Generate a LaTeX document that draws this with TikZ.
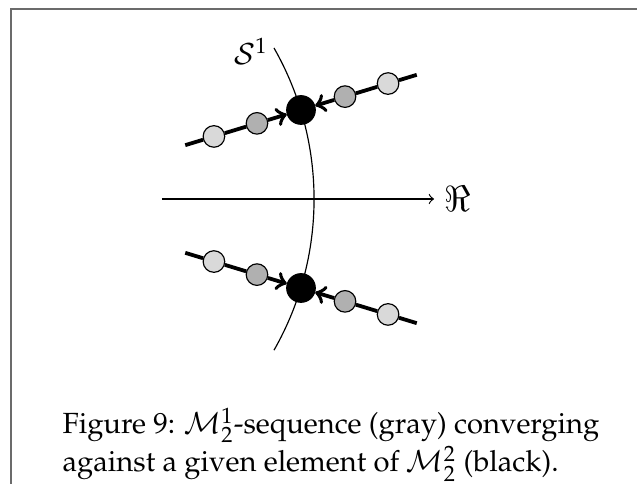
\documentclass[tikz,border=0pt]{standalone}
\usepackage[T1]{fontenc}
\usepackage{mathpazo}
\usepackage{amsmath,amssymb}
\definecolor{seqpale}{gray}{0.85}
\definecolor{seqmid}{gray}{0.69}
\definecolor{framegray}{gray}{0.42}
\tikzset{
  limitdot/.style={circle,draw=black,fill=black,inner sep=0pt,minimum size=9.8pt},
  seqdot/.style={circle,draw=black,thin,fill=#1,inner sep=0pt,minimum size=7.4pt},
  seqline/.style={line width=1.3pt}
}
\newcommand{\seqpair}[4]{%
  \begin{scope}[shift={(#1,#2)},rotate=#3]
    \node[limitdot] (lim#4) at (0,0) {};
    \node[seqdot=seqmid] (wmid#4) at (-46,0) {};
    \node[seqdot=seqpale] (wpale#4) at (-91,0) {};
    \node[seqdot=seqmid] (emid#4) at (46,0) {};
    \node[seqdot=seqpale] (epale#4) at (91,0) {};
    \coordinate (wend#4) at (-121,0);
    \coordinate (eend#4) at (121,0);
    \draw[seqline] (wend#4) -- (wpale#4);
    \draw[seqline] (wpale#4) -- (wmid#4);
    \draw[seqline,->] (wmid#4) -- (lim#4);
    \draw[seqline] (eend#4) -- (epale#4);
    \draw[seqline] (epale#4) -- (emid#4);
    \draw[seqline,->] (emid#4) -- (lim#4);
  \end{scope}%
}

\begin{document}
\begin{tikzpicture}[x=0.343pt,y=-0.343pt]
  \useasboundingbox (0,0) rectangle (637,484);
  \coordinate (framebl) at (11,484);
  \coordinate (frametl) at (11,9);
  \coordinate (frametr) at (637,9);
  \draw[framegray,line width=0.6pt] (framebl) -- (frametl) -- (frametr);

  \coordinate (arctop) at (274,48);
  \draw[thin] (arctop) arc[start angle=-29.7,end angle=29.7,radius=305];
  \node (sphere) at (251,51) {$\mathcal{S}^1$};

  \coordinate (axwest) at (162,199);
  \node[font=\large] (realaxis) at (458,199) {$\Re$};
  \draw[thin,->] (axwest) -- (realaxis);

  \seqpair{301}{110}{16.9}{up}
  \seqpair{301}{288}{-16.9}{down}

  \node[anchor=north west,inner sep=0pt,align=left] (caption) at (62,407)
    {Figure 9: $\mathcal{M}^1_2$-sequence (gray) converging\\
     against a given element of $\mathcal{M}^2_2$ (black).};
\end{tikzpicture}
\end{document}
